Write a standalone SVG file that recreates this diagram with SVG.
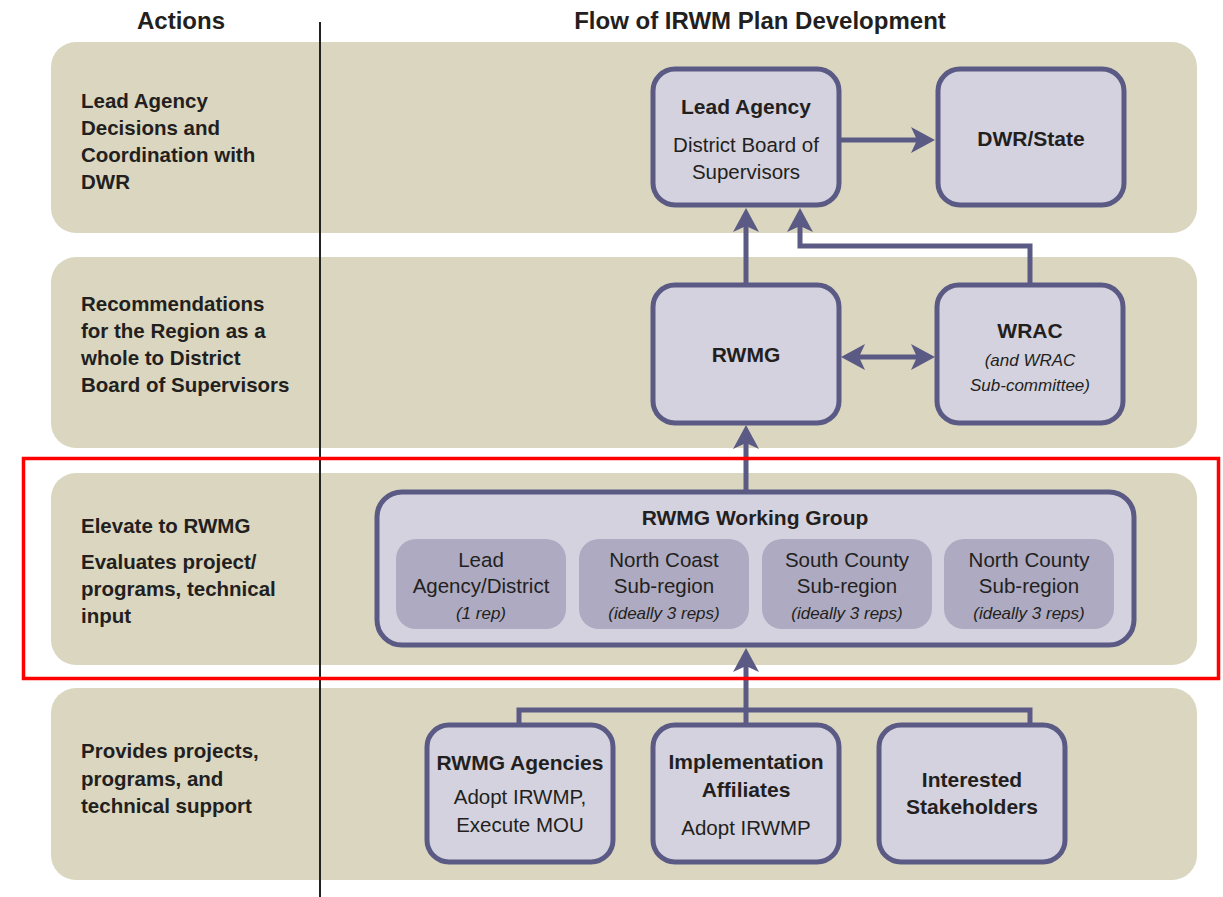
<svg xmlns="http://www.w3.org/2000/svg" width="1223" height="897" viewBox="0 0 1223 897">
<defs>
<style>
.band{fill:#dad6bf;}
.box{fill:#d3d2de;stroke:#5a5a85;stroke-width:5;}
.sub{fill:#adaac1;}
.con{fill:none;stroke:#5a5a85;stroke-width:5;}
text{font-family:"Liberation Sans",Arial,sans-serif;fill:#231f20;}
.hd{font-size:24px;font-weight:bold;text-anchor:middle;}
.lab{font-size:20.5px;font-weight:bold;}
.b{font-size:21px;font-weight:bold;text-anchor:middle;}
.r{font-size:20.5px;text-anchor:middle;}
.i{font-size:17px;font-style:italic;text-anchor:middle;}
</style>
<marker id="ah" markerUnits="userSpaceOnUse" viewBox="0 0 24 26" refX="10" refY="13" markerWidth="24" markerHeight="26" orient="auto-start-reverse">
<path d="M0,0 L24,13 L0,26 L6,13 Z" fill="#5a5a85"/>
</marker>
</defs>
<rect width="1223" height="897" fill="#ffffff"/>

<g id="bands">
<rect class="band" x="51" y="42" width="1146" height="191" rx="25"/>
<rect class="band" x="51" y="257" width="1146" height="191" rx="25"/>
<rect class="band" x="51" y="473" width="1146" height="192" rx="25"/>
<rect class="band" x="51" y="688" width="1146" height="192" rx="25"/>
</g>

<g id="headers">
<text class="hd" x="181" y="29">Actions</text>
<text class="hd" x="760" y="29">Flow of IRWM Plan Development</text>
</g>
<line id="divider" x1="320" y1="22" x2="320" y2="897" stroke="#222222" stroke-width="2"/>

<g id="action-labels">
<text class="lab" x="81" y="108">Lead Agency</text>
<text class="lab" x="81" y="135">Decisions and</text>
<text class="lab" x="81" y="162">Coordination with</text>
<text class="lab" x="81" y="189">DWR</text>
<text class="lab" x="81" y="311">Recommendations</text>
<text class="lab" x="81" y="338">for the Region as a</text>
<text class="lab" x="81" y="365">whole to District</text>
<text class="lab" x="81" y="392">Board of Supervisors</text>
<text class="lab" x="81" y="533">Elevate to RWMG</text>
<text class="lab" x="81" y="569">Evaluates project/</text>
<text class="lab" x="81" y="596">programs, technical</text>
<text class="lab" x="81" y="623">input</text>
<text class="lab" x="81" y="758">Provides projects,</text>
<text class="lab" x="81" y="786">programs, and</text>
<text class="lab" x="81" y="813">technical support</text>
</g>

<g id="connectors">
<line class="con" x1="839" y1="140" x2="921" y2="140" marker-end="url(#ah)"/>
<line class="con" x1="855" y1="357" x2="921" y2="357" marker-start="url(#ah)" marker-end="url(#ah)"/>
<line class="con" x1="746" y1="286" x2="746" y2="222" marker-end="url(#ah)"/>
<path class="con" d="M1030,286 V246 H800 V222" marker-end="url(#ah)"/>
<line class="con" x1="746" y1="493" x2="746" y2="439" marker-end="url(#ah)"/>
<path class="con" d="M519,726 V710 H1030 V726"/>
<line class="con" x1="746" y1="726" x2="746" y2="662" marker-end="url(#ah)"/>
</g>

<g id="lead-agency">
<rect class="box" x="653" y="69" width="186" height="136" rx="22"/>
<text class="b" x="746" y="114">Lead Agency</text>
<text class="r" x="746" y="152">District Board of</text>
<text class="r" x="746" y="179">Supervisors</text>
</g>
<g id="dwr-state">
<rect class="box" x="938" y="69" width="186" height="136" rx="22"/>
<text class="b" x="1031" y="146">DWR/State</text>
</g>
<g id="rwmg">
<rect class="box" x="653" y="285" width="186" height="138" rx="22"/>
<text class="b" x="746" y="362">RWMG</text>
</g>
<g id="wrac">
<rect class="box" x="937" y="285" width="186" height="138" rx="22"/>
<text class="b" x="1030" y="338">WRAC</text>
<text class="i" x="1030" y="366">(and WRAC</text>
<text class="i" x="1030" y="391">Sub-committee)</text>
</g>
<g id="rwmg-working-group">
<rect class="box" x="377" y="492" width="757" height="153" rx="25"/>
<text class="b" x="755" y="525">RWMG Working Group</text>
<g id="sub-lead">
<rect class="sub" x="396" y="539" width="170" height="90" rx="20"/>
<text class="r" x="481" y="567">Lead</text>
<text class="r" x="481" y="593">Agency/District</text>
<text class="i" x="481" y="619">(1 rep)</text>
</g>
<g id="sub-north-coast">
<rect class="sub" x="579" y="539" width="170" height="90" rx="20"/>
<text class="r" x="664" y="567">North Coast</text>
<text class="r" x="664" y="593">Sub-region</text>
<text class="i" x="664" y="619">(ideally 3 reps)</text>
</g>
<g id="sub-south-county">
<rect class="sub" x="762" y="539" width="170" height="90" rx="20"/>
<text class="r" x="847" y="567">South County</text>
<text class="r" x="847" y="593">Sub-region</text>
<text class="i" x="847" y="619">(ideally 3 reps)</text>
</g>
<g id="sub-north-county">
<rect class="sub" x="944" y="539" width="170" height="90" rx="20"/>
<text class="r" x="1029" y="567">North County</text>
<text class="r" x="1029" y="593">Sub-region</text>
<text class="i" x="1029" y="619">(ideally 3 reps)</text>
</g>
</g>
<g id="rwmg-agencies">
<rect class="box" x="427" y="725" width="186" height="137" rx="22"/>
<text class="b" x="520" y="770">RWMG Agencies</text>
<text class="r" x="520" y="804">Adopt IRWMP,</text>
<text class="r" x="520" y="832">Execute MOU</text>
</g>
<g id="implementation-affiliates">
<rect class="box" x="653" y="725" width="186" height="137" rx="22"/>
<text class="b" x="746" y="769">Implementation</text>
<text class="b" x="746" y="797">Affiliates</text>
<text class="r" x="746" y="835">Adopt IRWMP</text>
</g>
<g id="interested-stakeholders">
<rect class="box" x="879" y="725" width="186" height="137" rx="22"/>
<text class="b" x="972" y="787">Interested</text>
<text class="b" x="972" y="814">Stakeholders</text>
</g>

<rect id="highlight" x="23.5" y="458.5" width="1195" height="220" fill="none" stroke="#ff0000" stroke-width="3.5"/>
</svg>
